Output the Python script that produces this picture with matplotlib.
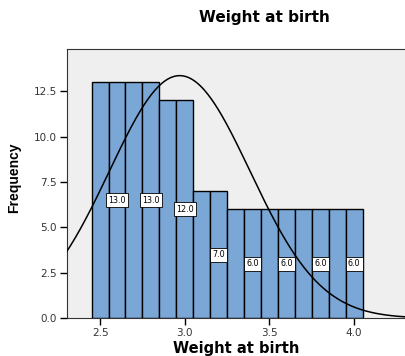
import numpy as np
import matplotlib
matplotlib.use("Agg")
import matplotlib.pyplot as plt

plt.rcParams['font.family'] = ['DejaVu Sans']

# bin centres and counts
bins = [2.5, 2.6, 2.7, 2.8, 2.9, 3.0, 3.1, 3.2, 3.3, 3.4, 3.5, 3.6, 3.7, 3.8, 3.9, 4.0]
counts = [13, 13, 13, 13, 12, 12, 7, 7, 6, 6, 6, 6, 6, 6, 6, 6]
# bars that carry a value box
labelled = [2.6, 2.8, 3.0, 3.2, 3.4, 3.6, 3.8, 4.0]
# normal curve as drawn
curve_mean = 2.97
curve_sd = 0.415
curve_peak = 13.35

fig = plt.figure(figsize=(4.05, 3.56), dpi=100)
ax = fig.add_axes([0.1647, 0.106, 0.8353, 0.7556])
ax.set_facecolor("#efefef")

ax.bar(bins, counts, width=0.1, color="#7ba7d6", edgecolor="black", linewidth=1.0, zorder=2)

for b, c in zip(bins, counts):
    if b in labelled:
        ax.text(b, c / 2, "%.1f" % c, ha="center", va="center", fontsize=5.8, zorder=4,
                bbox=dict(boxstyle="square,pad=0.3", fc="white", ec="black", lw=0.6))

xs = np.linspace(2.3, 4.35, 300)
ax.plot(xs, curve_peak * np.exp(-0.5 * ((xs - curve_mean) / curve_sd) ** 2), color="black", lw=1.1, zorder=3)

ax.set_xlim(2.303, 4.30)
ax.set_ylim(0, 14.8)
ax.set_xticks([2.5, 3.0, 3.5, 4.0])
ax.set_xticklabels(["2.5", "3.0", "3.5", "4.0"])
ax.set_yticks([0, 2.5, 5.0, 7.5, 10.0, 12.5])
ax.set_yticklabels(["0.0", "2.5", "5.0", "7.5", "10.0", "12.5"])
ax.tick_params(direction="out", length=5, width=1, labelsize=7.5, labelcolor="#333333", pad=2)
for s in ["left", "top", "bottom"]:
    ax.spines[s].set_color("#333333")
ax.spines["right"].set_visible(False)

fig.text(0.652, 0.95, "Weight at birth", ha="center", va="center", fontsize=11, fontweight="bold")
fig.text(0.583, 0.022, "Weight at birth", ha="center", va="center", fontsize=10.5, fontweight="bold")
fig.text(0.035, 0.50, "Frequency", ha="center", va="center", rotation=90, fontsize=10,
         fontweight="bold", family=['DejaVu Sans Condensed', 'Liberation Sans'])

plt.savefig("out.png", dpi=100)
